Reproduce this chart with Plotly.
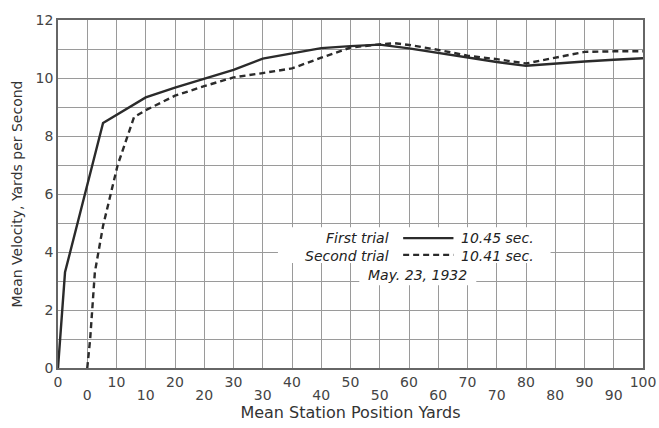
import plotly.graph_objects as go

# ---- data ----
first_x = [0, 1.2, 7.7, 15, 20, 25, 30, 35, 40, 45, 50, 55, 60, 65, 70, 75, 80, 85, 90, 95, 100]
first_y = [0, 3.3, 8.45, 9.33, 9.67, 9.97, 10.28, 10.67, 10.86, 11.03, 11.1, 11.15, 11.02,
           10.86, 10.69, 10.55, 10.42, 10.5, 10.57, 10.63, 10.68]

# second-trial positions on its own (lower) scale, which is offset by 5 yards
second_x = [0, 0.5, 1.3, 2.7, 5.2, 8, 10, 15, 20, 25, 30, 35, 40, 45, 50, 52.5, 55, 60,
            65, 70, 75, 80, 82.5, 85, 90, 95]
second_y = [0, 1.0, 3.3, 4.9, 7.0, 8.65, 8.89, 9.39, 9.72, 10.02, 10.17, 10.33, 10.7, 11.05,
            11.16, 11.2, 11.14, 10.97, 10.77, 10.65, 10.5, 10.7, 10.82, 10.9, 10.92, 10.92]

top_ticks = [0, 10, 20, 30, 40, 50, 60, 70, 80, 90, 100]
bottom_ticks = [0, 10, 20, 30, 40, 50, 60, 70, 80, 90]
y_ticks = [0, 2, 4, 6, 8, 10, 12]

legend_names = ["First trial", "Second trial"]
legend_times = ["10.45 sec.", "10.41 sec."]
legend_dashes = ["solid", "6px,4px"]
date_text = "May. 23, 1932"

INK = "#2b2b2b"
GRID = "#9a9a9a"
TXT = "#444444"
FONT = "DejaVu Sans"
LEG_FONT = dict(family=FONT, size=14, color="#222", style="italic")

fig = go.Figure()
fig.add_trace(go.Scatter(x=first_x, y=first_y, mode="lines", xaxis="x", yaxis="y",
                         line=dict(color=INK, width=2.4), name=legend_names[0],
                         showlegend=False))
fig.add_trace(go.Scatter(x=second_x, y=second_y, mode="lines", xaxis="x2", yaxis="y",
                         line=dict(color=INK, width=2.4, dash="6px,4px"),
                         name=legend_names[1], showlegend=False))

# legend block (inside plot, white background)
fig.add_shape(type="rect", xref="x", yref="y", x0=37.6, x1=84.2, y0=3.62, y1=4.85,
              fillcolor="white", line=dict(width=0), layer="between")
fig.add_shape(type="rect", xref="x", yref="y", x0=51.5, x1=71.5, y0=2.85, y1=3.62,
              fillcolor="white", line=dict(width=0), layer="between")
row_y = [4.48, 3.9]
mid_y = sum(row_y) / 2
fig.add_annotation(x=57.0, y=mid_y, xref="x", yref="y", text="<br>".join(legend_names),
                   showarrow=False, xanchor="right", yanchor="middle", align="right",
                   font=LEG_FONT)
fig.add_annotation(x=68.6, y=mid_y, xref="x", yref="y", text="<br>".join(legend_times),
                   showarrow=False, xanchor="left", yanchor="middle", align="left",
                   font=LEG_FONT)
for dash, yy in zip(legend_dashes, row_y):
    fig.add_shape(type="line", xref="x", yref="y", x0=59.0, x1=67.6, y0=yy, y1=yy,
                  line=dict(color=INK, width=2.2, dash=dash))
fig.add_annotation(x=61.4, y=3.22, xref="x", yref="y", text=date_text, showarrow=False,
                   xanchor="center", yanchor="middle", font=LEG_FONT)

fig.update_layout(
    width=659, height=428,
    margin=dict(l=58, r=16, t=20, b=10),
    paper_bgcolor="white", plot_bgcolor="white",
    font=dict(family=FONT, color=TXT, size=14),
    showlegend=False,
    xaxis=dict(range=[0, 100], tickvals=top_ticks, ticktext=[str(v) for v in top_ticks],
               showgrid=True, gridcolor=GRID, gridwidth=1,
               minor=dict(dtick=5, showgrid=True, gridcolor=GRID, gridwidth=1),
               showline=True, linecolor="#666", linewidth=1.5, mirror=True,
               ticks="", zeroline=False, automargin=False, ticklabeloverflow="allow",
               tickfont=dict(family=FONT, size=14, color=TXT), anchor="y"),
    xaxis2=dict(range=[-5, 95], overlaying="x", anchor="free", position=0.083,
                tickvals=bottom_ticks, ticktext=[str(v) for v in bottom_ticks],
                showgrid=False, showline=False, ticks="", zeroline=False,
                automargin=False, side="bottom", ticklabeloverflow="allow",
                tickfont=dict(family=FONT, size=14, color=TXT),
                title=dict(text="Mean Station Position Yards", standoff=2,
                           font=dict(family=FONT, size=16, color="#333"))),
    yaxis=dict(range=[0, 12], domain=[0.1256, 1], tickvals=y_ticks,
               ticktext=[str(v) for v in y_ticks],
               showgrid=True, gridcolor=GRID, gridwidth=1,
               minor=dict(dtick=1, showgrid=True, gridcolor=GRID, gridwidth=1),
               showline=True, linecolor="#666", linewidth=1.5, mirror=True,
               ticks="", zeroline=False, automargin=False,
               tickfont=dict(family=FONT, size=14, color=TXT),
               title=dict(text="Mean Velocity, Yards per Second", standoff=10,
                          font=dict(family=FONT, size=14, color="#333"))),
)

fig.write_html("out.html", config={"displayModeBar": False},
               post_script="document.body.style.margin='0px';document.body.style.overflow='hidden';")
